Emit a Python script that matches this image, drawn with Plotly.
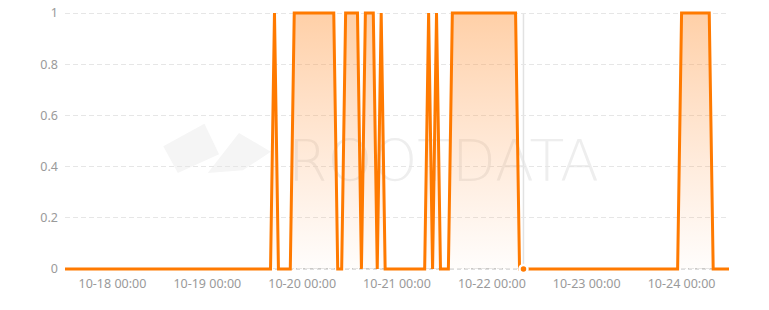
import plotly.graph_objects as go
import pandas as pd

# Hourly series, 2024-10-17 12:00 -> 2024-10-24 12:00
start_time = "2024-10-17 12:00"
values = [
    0, 0, 0, 0, 0, 0, 0, 0, 0, 0, 0, 0,   # h0-11
    0, 0, 0, 0, 0, 0, 0, 0, 0, 0, 0, 0,   # h12-23
    0, 0, 0, 0, 0, 0, 0, 0, 0, 0, 0, 0,   # h24-35
    0, 0, 0, 0, 0, 0, 0, 0, 0, 0, 0, 0,   # h36-47
    0, 0, 0, 0, 0, 1, 0, 0, 0, 0, 1, 1,   # h48-59
    1, 1, 1, 1, 1, 1, 1, 1, 1, 0, 0, 1,   # h60-71
    1, 1, 1, 0, 1, 1, 1, 0, 1, 0, 0, 0,   # h72-83
    0, 0, 0, 0, 0, 0, 0, 0, 1, 0, 1, 0,   # h84-95
    0, 0, 1, 1, 1, 1, 1, 1, 1, 1, 1, 1,   # h96-107
    1, 1, 1, 1, 1, 1, 1, 0, 0, 0, 0, 0,   # h108-119
    0, 0, 0, 0, 0, 0, 0, 0, 0, 0, 0, 0,   # h120-131
    0, 0, 0, 0, 0, 0, 0, 0, 0, 0, 0, 0,   # h132-143
    0, 0, 0, 0, 0, 0, 0, 0, 0, 0, 0, 0,   # h144-155
    1, 1, 1, 1, 1, 1, 1, 1, 0, 0, 0, 0,   # h156-167
    0,                                    # h168
]
times = pd.date_range(start_time, periods=len(values), freq="h")

hover_index = 116
y_ticks = [0, 0.2, 0.4, 0.6, 0.8, 1]
y_tick_text = ["0", "0.2", "0.4", "0.6", "0.8", "1"]
watermark = "ROOTDATA"

LINE = "#ff7a00"
FONT = "Noto Sans"

fig = go.Figure()

fig.add_trace(go.Scatter(
    x=times, y=values, mode="lines",
    line=dict(color=LINE, width=3),
    fill="tozeroy",
    fillgradient=dict(type="vertical",
                      colorscale=[[0, "rgba(255,160,90,0.02)"],
                                  [1, "rgba(255,150,60,0.45)"]]),
    hoverinfo="skip",
))

# hover marker
fig.add_trace(go.Scatter(
    x=[times[hover_index]], y=[values[hover_index]], mode="markers",
    marker=dict(color=LINE, size=8, line=dict(color="white", width=2.5)),
    hoverinfo="skip", cliponaxis=False,
))

shapes = [
    # zero line dashed
    dict(type="line", xref="paper", yref="y", x0=0, x1=1, y0=0, y1=0,
         line=dict(color="#a8a8a8", width=1, dash="4px,3px"), layer="below"),
    # crosshair
    dict(type="line", xref="x", yref="y", x0=times[hover_index], x1=times[hover_index],
         y0=0, y1=1, line=dict(color="#e2e2e2", width=1.5), layer="below"),
    # watermark logo
    dict(type="path", xref="paper", yref="paper", layer="below",
         path="M 0.148,0.48 L 0.21,0.565 L 0.232,0.45 L 0.17,0.38 Z",
         fillcolor="rgba(245,245,245,1)", line=dict(width=0)),
    dict(type="path", xref="paper", yref="paper", layer="below",
         path="M 0.215,0.38 L 0.262,0.53 L 0.31,0.46 L 0.268,0.39 Z",
         fillcolor="rgba(245,245,245,1)", line=dict(width=0)),
    # watermark text (drawn below data)
    dict(type="rect", xref="paper", yref="paper", layer="below",
         x0=0.3, x1=0.84, y0=0.32, y1=0.56,
         line=dict(width=0), fillcolor="rgba(0,0,0,0)",
         label=dict(text=watermark, textposition="middle center",
                    font=dict(family="DejaVu Sans", size=57, color="#eeeeee",
                              weight=300))),
]

fig.update_layout(
    width=769, height=310,
    margin=dict(l=65, r=40.4, t=4.8, b=35.8),
    paper_bgcolor="white", plot_bgcolor="white",
    showlegend=False,
    shapes=shapes,
    xaxis=dict(
        type="date",
        range=[times[0], times[-1]],
        showgrid=False, zeroline=False, showline=False,
        ticks="", dtick=86400000, tick0="2024-10-18 00:00",
        tickformat="%m-%d %H:%M",
        tickfont=dict(family=FONT, size=12.5, color="#9a9a9a"),
        fixedrange=True,
    ),
    yaxis=dict(
        range=[-0.02, 1.02],
        tickvals=y_ticks, ticktext=y_tick_text,
        showgrid=True, gridcolor="#e6e6e6", griddash="5px,3px", gridwidth=1,
        zeroline=False, showline=False, ticks="",
        tickfont=dict(family=FONT, size=12.5, color="#9a9a9a"),
        ticklabelstandoff=6,
        fixedrange=True,
    ),
)

fig.write_html("out.html")
